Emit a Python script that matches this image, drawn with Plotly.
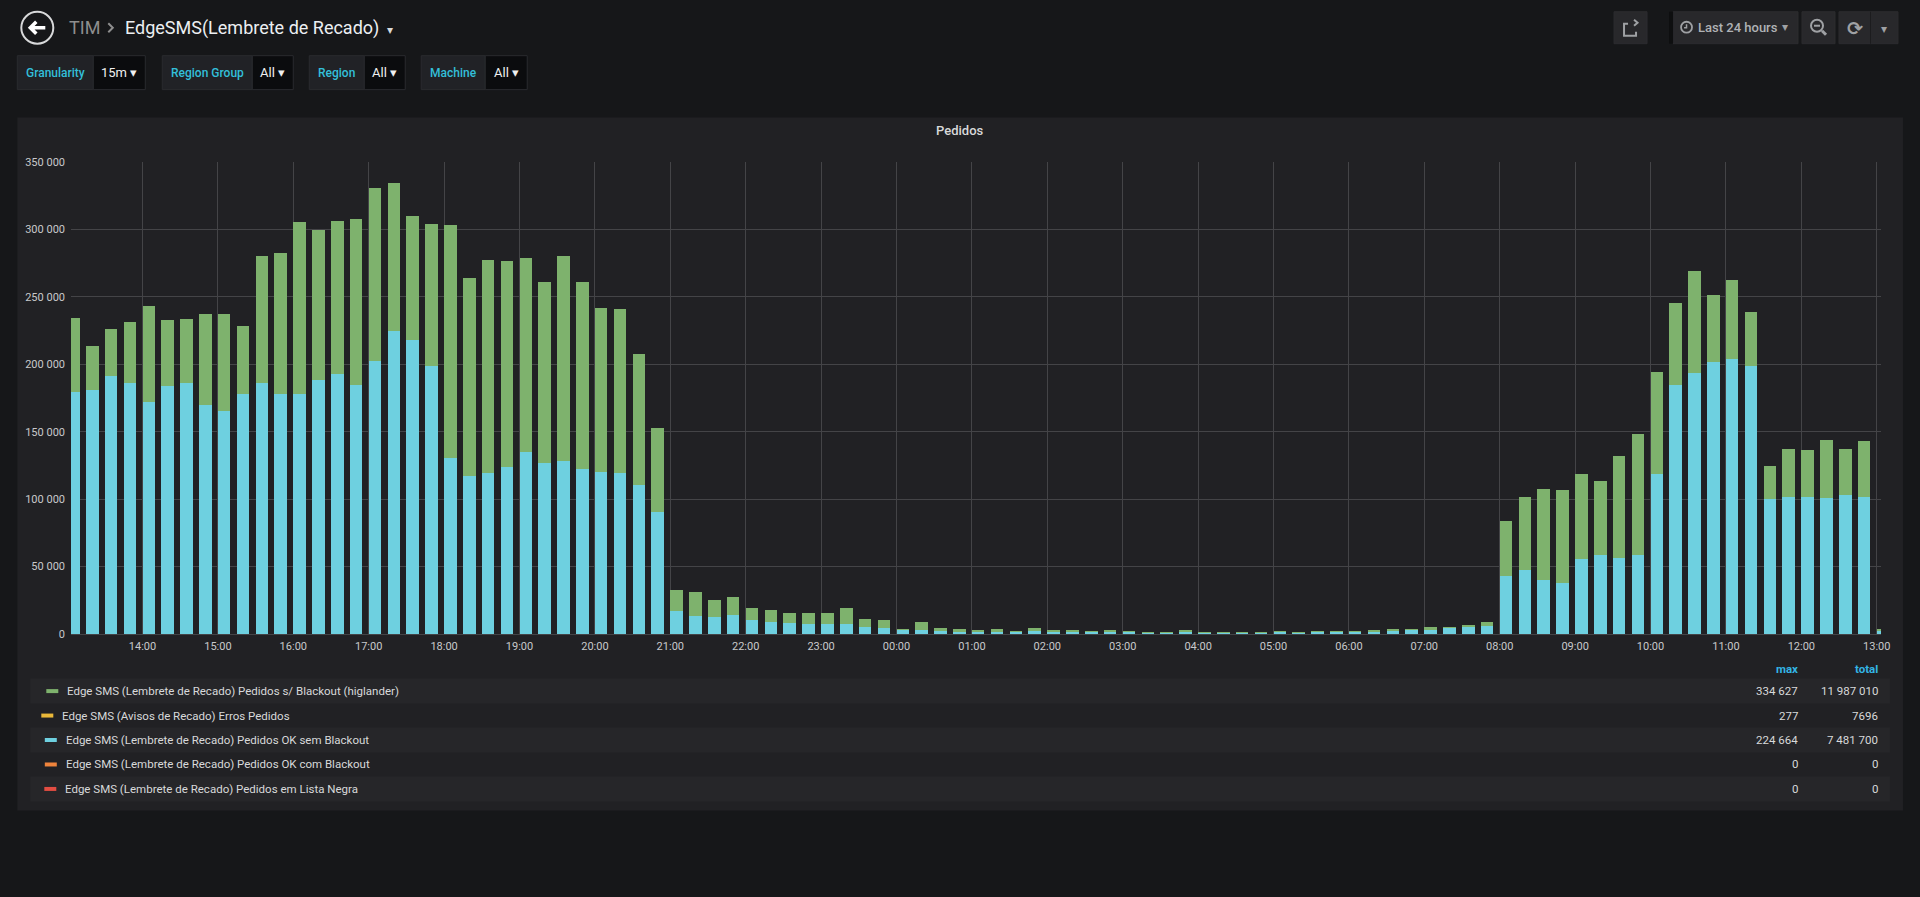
import pandas as pd
import plotly.graph_objects as go

# 15 minute buckets, last 24 hours
bucket_start = "2018-06-11 13:00"
n_buckets = 97
times = pd.date_range(bucket_start, periods=n_buckets, freq="15min")

# Pedidos s/ Blackout (higlander) - green
pedidos_total = [
    234100, 213300, 226000, 231700, 242900, 233000, 233600, 237700,
    237400, 228100, 280600, 282700, 305300, 299300, 306600, 307900,
    331000, 334627, 309700, 304200, 303400, 264200, 277500, 276400,
    278500, 260800, 280600, 260800, 242100, 241100, 207600, 152800,
    33000, 31100, 25400, 27400, 19250, 17770, 15550, 15550,
    15800, 19250, 11100, 10370, 3700, 8900, 4200, 3700,
    3200, 3950, 2470, 4700, 2700, 3200, 2470, 2700,
    2470, 1730, 1730, 2960, 1730, 1730, 1730, 1730,
    2470, 1730, 2220, 1970, 2470, 2700, 3950, 3850,
    5300, 5200, 6650, 8650, 83900, 101900, 107400, 107100,
    119000, 113300, 132000, 148600, 194000, 245800, 269500, 251700,
    262800, 238900, 124900, 137000, 136700, 143900, 137200, 143100,
    3950,
]

# Pedidos OK sem Blackout - blue
pedidos_ok = [
    179800, 180800, 191200, 186300, 172000, 183900, 186500, 169600,
    165500, 177700, 185800, 177700, 178200, 188600, 192500, 184700,
    202400, 224664, 218000, 198500, 130900, 116900, 119200, 123700,
    134800, 126500, 128100, 122100, 119800, 119200, 110400, 90700,
    17300, 13550, 12580, 14300, 10600, 9130, 7900, 7650,
    7400, 7650, 4950, 4440, 2700, 3200, 2000, 1730,
    1730, 1730, 1230, 2000, 1230, 1230, 1230, 990,
    990, 740, 740, 990, 740, 740, 740, 740,
    990, 740, 990, 990, 1230, 1480, 2220, 2700,
    3300, 4200, 5200, 6150, 43200, 47600, 40000, 38000,
    55800, 58500, 56500, 58500, 118500, 184400, 193700, 202100,
    203900, 198700, 100400, 101700, 101400, 100900, 102900, 101700,
    2470,
]

legend_names = [
    "Edge SMS (Lembrete de Recado) Pedidos s/ Blackout (higlander)",
    "Edge SMS (Avisos de Recado) Erros Pedidos",
    "Edge SMS (Lembrete de Recado) Pedidos OK sem Blackout",
    "Edge SMS (Lembrete de Recado) Pedidos OK com Blackout",
    "Edge SMS (Lembrete de Recado) Pedidos em Lista Negra",
]
legend_colors = ["#7eb26d", "#eab839", "#6ed0e0", "#ef843c", "#e24d42"]
legend_max = ["334 627", "277", "224 664", "0", "0"]
legend_total = ["11 987 010", "7696", "7 481 700", "0", "0"]

variables = [("Granularity", "15m"), ("Region Group", "All"), ("Region", "All"), ("Machine", "All")]

# page geometry (pixels)
L, R, T, B = 70.7, 1881.0, 161.5, 634.3
W, H = R - L, B - T


def fx(x):
    return (x - L) / W


def fy(y):
    return (B - y) / H


def path(pts):
    s = ""
    for cmd, x, y in pts:
        s += "%s %.5f %.5f " % (cmd, fx(x), fy(y))
    return s


PAGE = "#161719"
PANEL = "#212124"
TXT = "#d8d9da"
GRAY = "#9fa1a4"

fig = go.Figure()
fig.add_trace(go.Bar(x=times, y=pedidos_total, width=600000, offset=0,
                     marker=dict(color="#7eb26d", line=dict(width=0)), name=legend_names[0]))
fig.add_trace(go.Bar(x=times, y=pedidos_ok, width=600000, offset=0,
                     marker=dict(color="#6ed0e0", line=dict(width=0)), name=legend_names[2]))

shapes = []
ann = []


def rect(x0, y0, x1, y1, fill, line=None, layer="below"):
    shapes.append(dict(type="rect", xref="paper", yref="paper", x0=fx(x0), x1=fx(x1),
                       y0=fy(y1), y1=fy(y0), fillcolor=fill, layer=layer,
                       line=dict(width=1 if line else 0, color=line or fill)))


def text(x, y, s, size=12, color=TXT, anchor="left", weight="normal", family="Roboto"):
    ann.append(dict(xref="paper", yref="paper", x=fx(x), y=fy(y), text=s, showarrow=False,
                    xanchor=anchor, yanchor="middle",
                    font=dict(size=size, color=color, family=family, weight=weight)))


def line_path(pts, color, width=2):
    shapes.append(dict(type="path", xref="paper", yref="paper", path=path(pts),
                       line=dict(color=color, width=width), layer="above"))


# panel
rect(17, 117, 1903, 811, PANEL)

# header: back button + breadcrumb
shapes.append(dict(type="circle", xref="paper", yref="paper", x0=fx(21), x1=fx(53),
                   y0=fy(43), y1=fy(11), line=dict(color=TXT, width=2)))
line_path([("M", 45, 27), ("L", 30, 27), ("M", 36, 21), ("L", 30, 27), ("L", 36, 33)], "#ffffff", 3.5)
text(67, 27, "TIM", 18, "#8e8e8e")
line_path([("M", 108, 22.5), ("L", 112.5, 27), ("L", 108, 31.5)], "#8e8e8e", 2)
text(123, 27, "EdgeSMS(Lembrete de Recado)", 18, "#eceff2")
text(390, 29, "▾", 12, TXT, "center", family="DejaVu Sans")

# template variables
var_boxes = [(17, 93, 145), (162, 252, 293), (309, 364, 405), (421, 485, 527)]
for (lab, val), (x0, xm, x1) in zip(variables, var_boxes):
    rect(x0, 55, xm, 89, "#212226", "#2a2b2f")
    rect(xm, 55, x1, 89, "#0b0c0e", "#2a2b2f")
    text((x0 + xm) / 2, 72, lab, 12, "#33bfd9", "center", weight=500)
    text((xm + x1) / 2, 72, val + " ▾", 13, "#f0f0f0", "center")

# right side buttons
for x0, x1 in [(1614, 1647), (1673, 1798), (1802, 1835), (1839, 1898)]:
    rect(x0, 11, x1, 43, "#28282b", "#2c2c2f")
shapes.append(dict(type="line", xref="paper", yref="paper", x0=fx(1870.5), x1=fx(1870.5),
                   y0=fy(11), y1=fy(43), line=dict(color="#1c1c1e", width=1)))
rect(1669, 11, 1673, 43, "#0e0f10")
line_path([("M", 1636, 31), ("L", 1636, 35), ("L", 1624, 35), ("L", 1624, 23), ("L", 1628, 23)], GRAY, 2)
line_path([("M", 1628, 31), ("Q", 1629, 22), ("L", 1637, 22)], GRAY, 2)
line_path([("M", 1634, 19), ("L", 1637.5, 22), ("L", 1634, 25)], GRAY, 2)
shapes.append(dict(type="circle", xref="paper", yref="paper", x0=fx(1681), x1=fx(1692),
                   y0=fy(32), y1=fy(21), line=dict(color=GRAY, width=1.8)))
line_path([("M", 1686.5, 23.5), ("L", 1686.5, 27), ("L", 1684, 27)], GRAY, 1.5)
text(1696, 27, "Last 24 hours", 13, "#b0b2b5", weight=500)
text(1785, 26, "▾", 12, GRAY, "center", family="DejaVu Sans")
shapes.append(dict(type="circle", xref="paper", yref="paper", x0=fx(1811), x1=fx(1823),
                   y0=fy(31), y1=fy(19), line=dict(color=GRAY, width=2)))
line_path([("M", 1814, 25), ("L", 1820, 25)], GRAY, 2)
line_path([("M", 1822, 30), ("L", 1826, 34)], GRAY, 3)
text(1855, 27, "⟳", 19, GRAY, "center", family="DejaVu Sans", weight="bold")
text(1884, 28, "▾", 12, GRAY, "center", family="DejaVu Sans")

# panel title
text(960, 130, "Pedidos", 13, TXT, "center", weight=500)

# legend table
row_y = [(679, 704), (704, 728), (728, 753), (753, 777), (777, 802)]
sw_x = [46, 41, 44.5, 44.5, 44]
tx_x = [65, 59.5, 63.3, 63.3, 62.7]
for i, (y0, y1) in enumerate(row_y):
    if i % 2 == 0:
        rect(30, y0, 1890, y1, "#262629")
    yc = (y0 + y1) / 2
    rect(sw_x[i], yc - 2, sw_x[i] + 12, yc + 2, legend_colors[i], layer="above")
    text(tx_x[i], yc, legend_names[i], 11.5, TXT)
    text(1800, yc, legend_max[i], 11.5, TXT, "right")
    text(1880, yc, legend_total[i], 11.5, TXT, "right")
text(1800, 669, "max", 11.5, "#33b5e5", "right", weight="bold")
text(1880, 669, "total", 11.5, "#33b5e5", "right", weight="bold")

GRID = "#444447"
fig.update_layout(
    width=1920, height=897,
    margin=dict(l=L, r=1920 - R, t=T, b=897 - B, pad=0),
    paper_bgcolor=PAGE, plot_bgcolor="rgba(0,0,0,0)",
    barmode="overlay", bargap=0, showlegend=False,
    separators=". ",
    font=dict(family="Roboto", color=TXT),
    shapes=shapes, annotations=ann,
    xaxis=dict(type="date", range=["2018-06-11 13:03:06", "2018-06-12 13:03:24"],
               tick0="2018-06-11 14:00", dtick=3600000, tickformat="%H:%M",
               showgrid=True, gridcolor=GRID, gridwidth=1, zeroline=False, showline=False,
               ticks="", tickfont=dict(size=11, color="#c8c9cb"), ticklabelstandoff=4),
    yaxis=dict(range=[0, 350060], dtick=50000, tickformat=",d",
               showgrid=True, gridcolor=GRID, gridwidth=1, zeroline=True, zerolinecolor=GRID,
               zerolinewidth=1, showline=False, ticks="",
               tickfont=dict(size=11, color="#c8c9cb"), ticklabelstandoff=5),
)

fig.write_html("out.html", config={"displayModeBar": False},
               post_script="document.body.style.margin='0';document.body.style.overflow='hidden';")
